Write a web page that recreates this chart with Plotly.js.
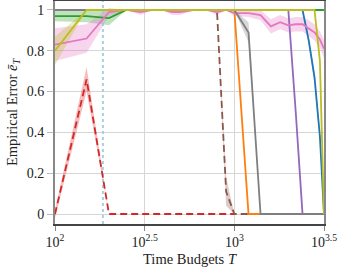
<!DOCTYPE html>
<html>
<head>
<meta charset="utf-8">
<script src="https://cdn.plot.ly/plotly-3.0.1.min.js"></script>
<style>html,body{margin:0;padding:0;background:#fff;}#chart{width:348px;height:273px;}</style>
</head>
<body>
<div id="chart"></div>
<script>
// Time budgets (x)
const budgets = [100,150,200,250,300,350,400,450,500,600,700,800,900,1000,1200,1400,1600,1800,2000,2200,2400,2600,2800,3000,3162];
const N = null;
// Series means
const blue   = [1,1,1,1,1,1,1,1,1,1,1,1,1,1,1,1,1,1,1,1,1,0.85,0.67,0.38,0];
const orange = [1,1,1,1,1,1,1,1,1,1,1,1,1,1,0,0,N,N,N,N,N,N,N,N,N];
const green  = [0.97,0.97,0.96,1,1,1,1,1,1,1,1,1,1,1,1,1,1,1,1,1,1,1,1,1,1];
const red    = [0,0.66,0,0,0,0,0,0,0,0,0,0,0,0,N,N,N,N,N,N,N,N,N,N,N];
const purple = [1,1,1,1,1,1,1,1,1,1,1,1,1,1,1,1,1,1,1,0.5,0,0,0,0,0];
const brown  = [1,1,1,1,1,1,1,1,1,1,1,1,0.11,0,0,N,N,N,N,N,N,N,N,N,N];
const pink   = [0.83,0.86,0.99,1,0.99,1,1,0.99,0.99,1,1,0.99,1,0.985,0.985,0.975,0.92,0.94,0.925,0.93,0.93,0.91,0.89,0.855,0.81];
const gray   = [1,1,1,1,1,1,1,1,1,1,1,1,1,1,0.89,0,0,0,0,0,0,0,0,0,0];
const olive  = [0.8,1,1,1,1,1,1,1,1,1,1,1,1,1,1,1,1,1,1,1,1,1,1,0.75,0];
// Band half-widths (uncertainty)
const blueErr   = [0,0,0,0,0,0,0,0,0,0,0,0,0,0,0,0,0,0,0,0,0,0.02,0.03,0.03,0];
const greenErr  = [0.025,0.03,0.035,0,0,0,0,0,0,0,0,0,0,0,0,0,0,0,0,0,0,0,0,0,0];
const redErr    = [0.02,0.06,0,0,0,0,0,0,0,0,0,0,0,0,N,N,N,N,N,N,N,N,N,N,N];
const brownErr  = [0,0,0,0,0,0,0,0,0,0,0,0,0.07,0,0,N,N,N,N,N,N,N,N,N,N];
const pinkErr   = [0.08,0.07,0.02,0,0.015,0,0,0.015,0.015,0,0,0.015,0,0.015,0.02,0.025,0.035,0.035,0.035,0.035,0.035,0.04,0.04,0.04,0.045];
const grayErr   = [0,0,0,0,0,0,0,0,0,0,0,0,0,0,0.05,0,0,0,0,0,0,0,0,0,0];
const oliveErr  = [0.07,0,0,0,0,0,0,0,0,0,0,0,0,0,0,0,0,0,0,0,0,0,0,0.03,0];
// Reference budget marked with a dotted vertical line
const refBudget = 185;

const xTickVals = [100, 316.2278, 1000, 3162.278];
const xTickText = ['10<sup>2</sup>','10<sup>2.5</sup>','10<sup>3</sup>','10<sup>3.5</sup>'];
const yTickVals = [0,0.2,0.4,0.6,0.8,1];
const yTickText = ['0','0.2','0.4','0.6','0.8','1'];

const series = [
  {y: blue, e: blueErr, c: '31,119,180', dash: 'solid'},
  {y: orange, e: null, c: '255,127,14', dash: 'solid'},
  {y: green, e: greenErr, c: '44,160,44', dash: 'solid'},
  {y: red, e: redErr, c: '214,39,40', dash: '7px,4px'},
  {y: purple, e: null, c: '148,103,189', dash: 'solid'},
  {y: brown, e: brownErr, c: '140,86,75', dash: '7px,4px'},
  {y: pink, e: pinkErr, c: '227,119,194', dash: 'solid'},
  {y: gray, e: grayErr, c: '127,127,127', dash: 'solid'},
  {y: olive, e: oliveErr, c: '188,189,34', dash: 'solid'}
];

const traces = [];
series.forEach(s => {
  if (!s.e) return;
  const lo = s.y.map((v,i) => v === null ? null : Math.max(-0.02, v - s.e[i]));
  const hi = s.y.map((v,i) => v === null ? null : Math.min(1.02, v + s.e[i]));
  traces.push({x: budgets, y: lo, mode: 'lines', line: {width: 0}, showlegend: false, hoverinfo: 'skip'});
  traces.push({x: budgets, y: hi, mode: 'lines', line: {width: 0}, fill: 'tonexty', fillcolor: 'rgba(' + s.c + ',0.3)', showlegend: false, hoverinfo: 'skip'});
});
traces.push({x: [refBudget, refBudget], y: [-0.049, 1.044], mode: 'lines', line: {color: 'rgba(158,202,225,0.9)', width: 2, dash: 'dot'}, showlegend: false});
series.forEach(s => {
  traces.push({x: budgets, y: s.y, mode: 'lines', line: {color: 'rgb(' + s.c + ')', width: 1.8, dash: s.dash}, showlegend: false});
});

const tickFont = {family: 'Liberation Serif, serif', size: 14, color: '#222'};
const titleFont = {family: 'Liberation Serif, serif', size: 14.5, color: '#222'};
const layout = {
  width: 348, height: 273,
  margin: {l: 55, r: 24, t: 1, b: 49},
  paper_bgcolor: '#fff', plot_bgcolor: '#fff',
  font: tickFont,
  showlegend: false,
  xaxis: {
    type: 'log', range: [2, 3.5], automargin: false,
    tickvals: xTickVals, ticktext: xTickText,
    showgrid: true, gridcolor: '#d6d6d6', gridwidth: 1,
    showline: true, linecolor: '#444', linewidth: 1.5, mirror: true,
    ticks: 'outside', ticklen: 5, tickcolor: '#888', tickwidth: 1,
    zeroline: false, tickfont: tickFont,
    title: {text: 'Time Budgets <i>T</i>', font: titleFont, standoff: 4}
  },
  yaxis: {
    range: [-0.049, 1.044], automargin: false,
    tickvals: yTickVals, ticktext: yTickText,
    showgrid: true, gridcolor: '#d6d6d6', gridwidth: 1,
    showline: true, linecolor: '#888', linewidth: 2, mirror: true,
    ticks: 'outside', ticklen: 6, tickcolor: '#bbb', tickwidth: 1,
    zeroline: false, tickfont: tickFont,
    title: {text: 'Empirical Error <i>ē</i><sub><i>T</i></sub>', font: titleFont, standoff: 6}
  }
};
Plotly.newPlot('chart', traces, layout, {staticPlot: true, displayModeBar: false});
</script>
</body>
</html>
